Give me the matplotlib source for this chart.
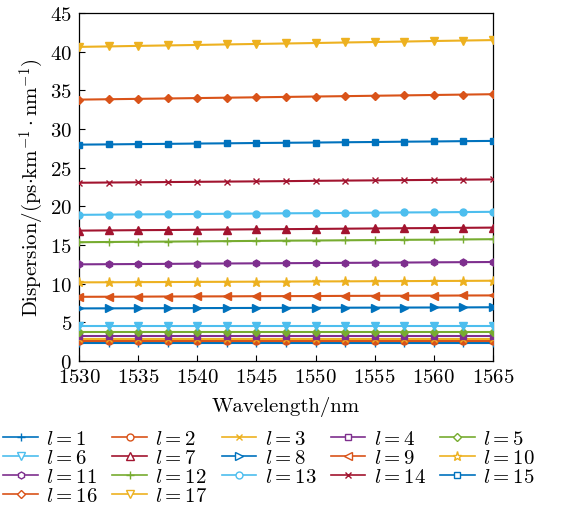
import numpy as np
import matplotlib
matplotlib.use("Agg")
import matplotlib.pyplot as plt
from matplotlib.lines import Line2D

plt.rcParams['font.family'] = 'serif'
plt.rcParams['font.serif'] = ['cmr10', 'DejaVu Serif']
plt.rcParams['mathtext.fontset'] = 'cm'
plt.rcParams['axes.formatter.use_mathtext'] = True

FS = 15

# ── datos ────────────────────────────────────────────────────────────────────
wavelength = [1530, 1532.5, 1535, 1537.5, 1540, 1542.5, 1545, 1547.5,
              1550, 1552.5, 1555, 1557.5, 1560, 1562.5, 1565]

d_l1  = [2.30, 2.30, 2.30, 2.30, 2.30, 2.30, 2.30, 2.30, 2.30, 2.30, 2.30, 2.30, 2.30, 2.30, 2.30]
d_l2  = [2.58, 2.58, 2.58, 2.58, 2.58, 2.58, 2.58, 2.58, 2.58, 2.58, 2.58, 2.58, 2.58, 2.58, 2.58]
d_l3  = [2.88, 2.88, 2.88, 2.88, 2.88, 2.88, 2.88, 2.88, 2.88, 2.88, 2.88, 2.88, 2.88, 2.88, 2.88]
d_l4  = [3.25, 3.25, 3.25, 3.25, 3.25, 3.25, 3.25, 3.25, 3.25, 3.25, 3.25, 3.25, 3.25, 3.25, 3.25]
d_l5  = [3.80, 3.80, 3.80, 3.80, 3.80, 3.80, 3.80, 3.80, 3.80, 3.80, 3.80, 3.80, 3.80, 3.80, 3.80]
d_l6  = [4.50, 4.50, 4.50, 4.50, 4.50, 4.50, 4.50, 4.50, 4.50, 4.50, 4.50, 4.50, 4.50, 4.50, 4.50]
d_l7  = [16.86, 16.89, 16.92, 16.94, 16.97, 17.00, 17.03, 17.05, 17.08, 17.11, 17.14, 17.17, 17.19, 17.22, 17.25]
d_l8  = [6.80, 6.81, 6.82, 6.83, 6.84, 6.85, 6.86, 6.87, 6.88, 6.89, 6.90, 6.91, 6.92, 6.93, 6.95]
d_l9  = [8.30, 8.31, 8.32, 8.34, 8.35, 8.36, 8.38, 8.39, 8.40, 8.42, 8.43, 8.44, 8.45, 8.47, 8.48]
d_l10 = [10.17, 10.18, 10.20, 10.21, 10.23, 10.24, 10.26, 10.27, 10.29, 10.30, 10.32, 10.33, 10.35, 10.36, 10.38]
d_l11 = [12.50, 12.52, 12.54, 12.56, 12.59, 12.61, 12.63, 12.65, 12.67, 12.69, 12.71, 12.73, 12.76, 12.78, 12.80]
d_l12 = [15.36, 15.39, 15.42, 15.44, 15.47, 15.50, 15.53, 15.56, 15.58, 15.61, 15.64, 15.67, 15.69, 15.72, 15.75]
d_l13 = [18.90, 18.93, 18.96, 18.98, 19.01, 19.04, 19.07, 19.10, 19.12, 19.15, 19.18, 19.21, 19.23, 19.26, 19.29]
d_l14 = [23.05, 23.08, 23.11, 23.14, 23.17, 23.20, 23.23, 23.26, 23.30, 23.33, 23.36, 23.39, 23.42, 23.45, 23.48]
d_l15 = [27.98, 28.01, 28.05, 28.08, 28.12, 28.15, 28.19, 28.22, 28.25, 28.29, 28.32, 28.36, 28.39, 28.43, 28.46]
d_l16 = [33.80, 33.85, 33.90, 33.95, 34.00, 34.05, 34.10, 34.15, 34.20, 34.25, 34.30, 34.35, 34.40, 34.45, 34.50]
d_l17 = [40.62, 40.68, 40.75, 40.81, 40.87, 40.94, 41.00, 41.06, 41.12, 41.19, 41.25, 41.31, 41.38, 41.44, 41.50]

series = [d_l1, d_l2, d_l3, d_l4, d_l5, d_l6, d_l7, d_l8, d_l9,
          d_l10, d_l11, d_l12, d_l13, d_l14, d_l15, d_l16, d_l17]
labels = [rf'$l = {i}$' for i in range(1, 18)]

# ── estilo tipo MATLAB ──────────────────────────────────────────────────────
colors  = ['#0072BD', '#D95319', '#EDB120', '#7E2F8E', '#77AC30', '#4DBEEE', '#A2142F']
markers = ['+', 'o', 'x', 's', 'D', 'v', '^', '>', '<', '*', 'h']
msizes  = {'+': 5.5, 'o': 5, 'x': 4, 's': 4.5, 'D': 4.2, 'v': 5.2, '^': 5.2,
           '>': 5.2, '<': 5.2, '*': 6.5, 'h': 5}

fig = plt.figure(figsize=(5.79, 5.06), dpi=100)
ax = fig.add_axes([0.1364, 0.2846, 0.715, 0.6877])

handles = []
for i, (y, lab) in enumerate(zip(series, labels)):
    c = colors[i % 7]
    m = markers[i % 11]
    ax.plot(wavelength, y, color=c, lw=1.5, marker=m, ms=msizes[m],
            mfc=c, mec=c, mew=1.0, zorder=3)
    handles.append(Line2D([], [], color=c, lw=1.2, marker=m, ms=msizes[m],
                          mfc='white', mec=c, mew=1.0, label=lab))

ax.set_xlim(1530, 1565)
ax.set_ylim(0, 45)
ax.set_xticks(np.arange(1530, 1566, 5))
ax.set_yticks(np.arange(0, 46, 5))
ax.tick_params(direction='in', labelsize=FS, length=4, width=0.8)
ax.tick_params(axis='y', pad=5)
ax.tick_params(axis='x', pad=5)
for sp in ax.spines.values():
    sp.set_linewidth(0.9)

ax.set_xlabel('Wavelength/nm', fontsize=FS, labelpad=7)
ax.set_ylabel(r'Dispersion/(ps$\cdot$km$^{-1}\cdot$nm$^{-1}$)', fontsize=FS, labelpad=3)

# leyenda por filas (matplotlib llena por columnas)
ncol = 5
order = []
for c in range(ncol):
    order += [r * ncol + c for r in range(4) if r * ncol + c < len(handles)]
fig.legend([handles[k] for k in order], [labels[k] for k in order],
           loc='upper left', bbox_to_anchor=(0.006, 0.149), ncol=ncol,
           frameon=False, fontsize=FS, handlelength=1.65, handletextpad=0.4,
           columnspacing=0.7, labelspacing=0.02, borderaxespad=0,
           borderpad=0)

fig.savefig('out.png', dpi=100)
